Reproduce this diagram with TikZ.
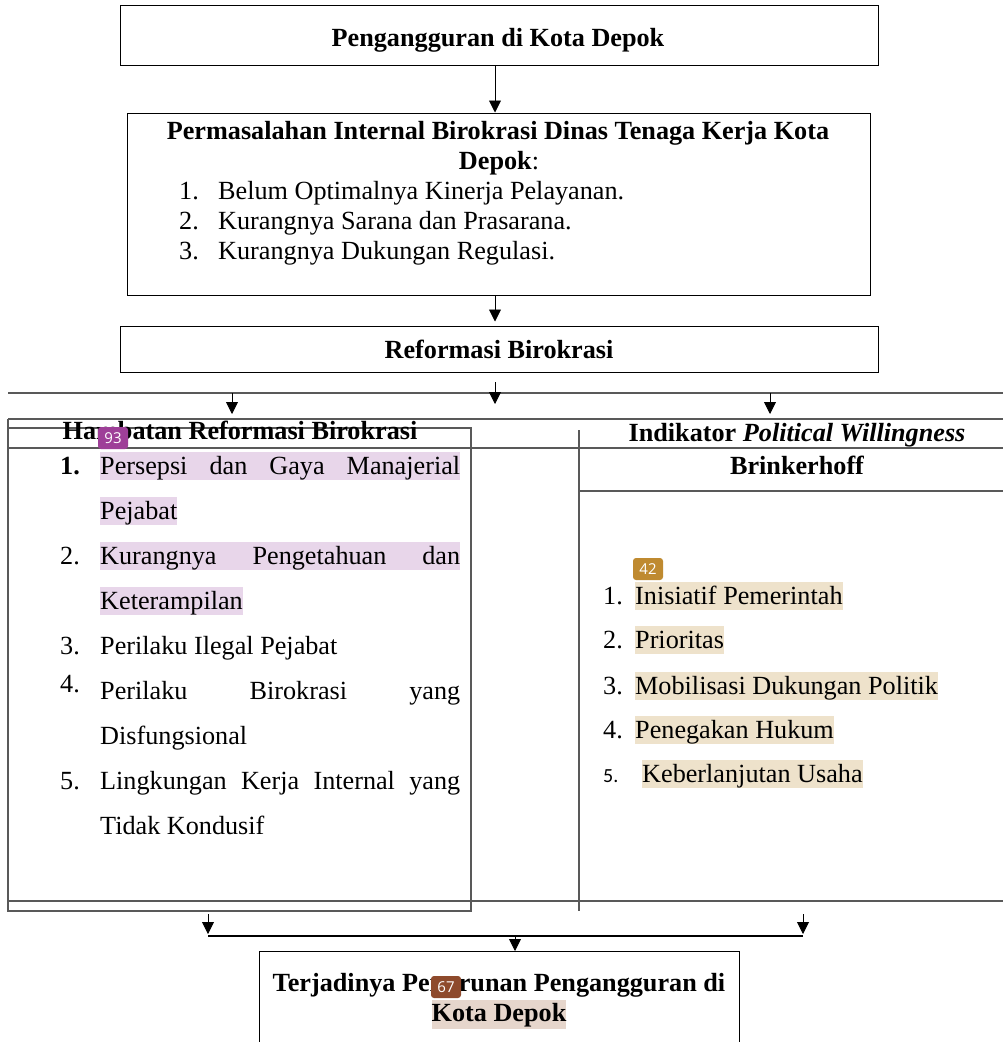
\documentclass[tikz,border=0pt]{standalone}
\usepackage{fontspec}
\setmainfont{Liberation Serif}
\newfontfamily\badgefont{Open Sans}
\newfontfamily\numsans{Carlito}
\usetikzlibrary{arrows.meta}
\definecolor{hlpurple}{HTML}{E8D6EA}
\definecolor{hltan}{HTML}{EEE2CB}
\definecolor{hlbrown}{HTML}{E6D6CC}
\definecolor{bpurple}{HTML}{9E3F98}
\definecolor{bgold}{HTML}{BF8A30}
\definecolor{bbrown}{HTML}{8E4A2C}
\begin{document}
\begin{tikzpicture}[x=1pt,y=-1pt,
  txt/.style={font=\fontsize{26.2pt}{30pt}\selectfont, inner sep=0pt, anchor=base},
  txtw/.style={txt, anchor=base west},
  boxn/.style={draw=black, line width=1pt, inner sep=0pt},
  arr/.style={-{Triangle[width=12pt,length=12pt]}, line width=0.9pt},
  rulel/.style={draw=black!65, line width=1.1pt},
  hlp/.style={txtw, fill=hlpurple, text height=22pt, text depth=6pt},
  hlt/.style={txtw, fill=hltan, text height=22pt, text depth=6pt},
  badge/.style={rounded corners=3pt, inner sep=0pt, minimum width=30pt, minimum height=22pt, text=white, font=\badgefont\fontsize{15pt}{15pt}\selectfont}
]
\useasboundingbox[fill=white] (0,0) rectangle (1003,1042);

% ---- boxes ----
\node[boxn, minimum width=758pt, minimum height=60pt] (b1) at (499,35) {};
\node[txt] (t1) at (498,46) {\bfseries Pengangguran di Kota Depok};

\node[boxn, minimum width=743pt, minimum height=182pt] (b2) at (498.5,204) {};
\node[txt] (t2a) at (498,139) {\bfseries Permasalahan Internal Birokrasi Dinas Tenaga Kerja Kota};
\node[txt] (t2b) at (499,169) {\textbf{Depok}:};
\node[txtw] (n21) at (179,199) {1.};
\node[txtw] (i21) at (218,199) {Belum Optimalnya Kinerja Pelayanan.};
\node[txtw] (n22) at (179,229) {2.};
\node[txtw] (i22) at (218,229) {Kurangnya Sarana dan Prasarana.};
\node[txtw] (n23) at (179,259) {3.};
\node[txtw] (i23) at (218,259) {Kurangnya Dukungan Regulasi.};

\node[boxn, minimum width=758pt, minimum height=46pt] (b3) at (499,349) {};
\node[txt] (t3) at (499,358) {\bfseries Reformasi Birokrasi};

\node[boxn, minimum width=480pt, minimum height=110pt, anchor=north] (b4) at (499,951) {};
\node[txt] (t4a) at (499,991) {\bfseries Terjadinya Penurunan Pengangguran di};
\node[txt, fill=hlbrown, text height=21pt, text depth=8pt] (t4b) at (499,1021) {\bfseries Kota Depok};

% ---- table lines ----
\draw[rulel] (8,393) -- (1003,393);
\draw[rulel] (8,419) -- (1003,419);
\draw[rulel] (8,448) -- (1003,448);
\draw[rulel] (579,491) -- (1003,491);
\draw[rulel] (8,901) -- (1003,901);
\draw[rulel] (8,419) -- (8,911) -- (471,911) -- (471,428) -- (8,428);
\draw[rulel] (579,430) -- (579,911);

% ---- left column ----
\node[txt] (hL) at (240,439) {\bfseries Hambatan Reformasi Birokrasi};
\node[txtw] (nL1) at (60,474) {\bfseries 1.};
\node[hlp] (L1a) at (100,474) {\makebox[360pt][s]{Persepsi dan Gaya Manajerial}};
\node[hlp] (L1b) at (100,519) {Pejabat};
\node[txtw] (nL2) at (60,564) {2.};
\node[hlp] (L2a) at (100,564) {\makebox[360pt][s]{Kurangnya Pengetahuan dan}};
\node[hlp] (L2b) at (100,609) {Keterampilan};
\node[txtw] (nL3) at (60,654) {3.};
\node[txtw] (L3) at (100,654) {Perilaku Ilegal Pejabat};
\node[txtw] (nL4) at (60,692) {4.};
\node[txtw] (L4a) at (100,699) {\makebox[360pt][s]{Perilaku Birokrasi yang}};
\node[txtw] (L4b) at (100,744) {Disfungsional};
\node[txtw] (nL5) at (60,789) {5.};
\node[txtw] (L5a) at (100,789) {\makebox[360pt][s]{Lingkungan Kerja Internal yang}};
\node[txtw] (L5b) at (100,834) {Tidak Kondusif};

% ---- right column ----
\node[txt] (hR1) at (797,441) {\bfseries Indikator \textit{Political Willingness}};
\node[txt] (hR2) at (797,474) {\bfseries Brinkerhoff};
\node[txtw] (nR1) at (603,604) {1.};
\node[hlt] (R1) at (635,604) {Inisiatif Pemerintah};
\node[txtw] (nR2) at (603,648) {2.};
\node[hlt] (R2) at (635,648) {Prioritas};
\node[txtw] (nR3) at (603,694) {3.};
\node[hlt] (R3) at (635,694) {Mobilisasi Dukungan Politik};
\node[txtw] (nR4) at (603,738) {4.};
\node[hlt] (R4) at (635,738) {Penegakan Hukum};
\node[txtw, font=\numsans\fontsize{20pt}{24pt}\selectfont] (nR5) at (603,782) {5.};
\node[hlt] (R5) at (642,782) {Keberlanjutan Usaha};

% ---- connector coordinates ----
\coordinate (ax) at (495,0);
\coordinate (r0) at (495,382);
\coordinate (r1) at (495,404);
\coordinate (la0) at (232,393);
\coordinate (la1) at (232,414);
\coordinate (ra0) at (770,393);
\coordinate (ra1) at (770,414);
\coordinate (bl0) at (208,914);
\coordinate (bl1) at (208,936);
\coordinate (br0) at (803,914);
\coordinate (br1) at (803,936);
\coordinate (bm) at (515,936);

% ---- connectors ----
\draw[arr] (b1.south -| ax) -- (b2.north -| ax);
\draw[arr] (b2.south -| ax) -- ([yshift=4pt]b3.north -| ax);
\draw[arr] (r0) -- (r1);
\draw[arr] (la0) -- (la1);
\draw[arr] (ra0) -- (ra1);
\draw[arr] (bl0) -- ([yshift=2pt]bl1);
\draw[arr] (br0) -- ([yshift=2pt]br1);
\draw[line width=1.1pt] (bl1) -- (br1);
\draw[arr] (bm) -- (b4.north -| bm);

% ---- badges ----
\node[badge, fill=bpurple] (bd1) at (113,438) {93};
\node[badge, fill=bgold] (bd2) at (648,569) {42};
\node[badge, fill=bbrown] (bd3) at (446,987) {67};
\end{tikzpicture}
\end{document}
